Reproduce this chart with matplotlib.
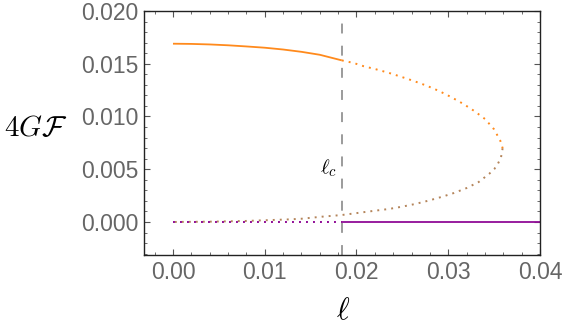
import matplotlib
matplotlib.use("Agg")
import matplotlib.pyplot as plt
from matplotlib.ticker import MultipleLocator, FormatStrFormatter

plt.rcParams['mathtext.fontset'] = 'cm'

lc = 0.0184

# upper branch (stable, solid) 0 -> lc
up_solid_x = [0.0, 0.002, 0.004, 0.006, 0.008, 0.010, 0.012, 0.014, 0.016, 0.0184]
up_solid_y = [0.0169, 0.01688, 0.01683, 0.01675, 0.01664, 0.01652, 0.01635, 0.01613, 0.01585, 0.01532]

# upper branch (dotted) lc -> turning point
up_dot_x = [0.0184, 0.0197, 0.0208, 0.02202, 0.02347, 0.02485, 0.02623, 0.02765, 0.02899,
            0.0303, 0.03161, 0.03284, 0.03401, 0.03499, 0.03567, 0.03593]
up_dot_y = [0.01532, 0.01507, 0.01476, 0.0145, 0.01415, 0.01377, 0.01337, 0.01292, 0.01242,
            0.01185, 0.01121, 0.01052, 0.00976, 0.00879, 0.00771, 0.00699]

# lower branch (dotted) turning point -> 0
lo_dot_x = [0.03593, 0.03575, 0.03542, 0.03502, 0.03448, 0.03332, 0.03201, 0.03063, 0.02925,
            0.02783, 0.02642, 0.02496, 0.02351, 0.02202, 0.0184, 0.01621, 0.01403,
            0.01275, 0.00807, 0.004, 0.0]
lo_dot_y = [0.00699, 0.00613, 0.00553, 0.00502, 0.00458, 0.00379, 0.00322, 0.00275, 0.00237,
            0.00202, 0.00171, 0.00145, 0.00123, 0.00107, 0.00066, 0.0005, 0.00031,
            0.00025, 0.0001, 0.00003, 0.0]

# trivial branch
triv_dot_x = [0.0, lc]
triv_dot_y = [0.0, 0.0]
triv_solid_x = [lc, 0.04]
triv_solid_y = [0.0, 0.0]

orange = '#ff8a1c'
brown = '#b4845a'
purple = '#900c96'

fig = plt.figure(figsize=(5.63, 3.36), dpi=100)
ax = fig.add_axes([144/563, 1-255/336, (540-144)/563, (255-11)/336])

dot = (0, (1, 2.6))
ax.plot(lo_dot_x, lo_dot_y, color=brown, lw=1.4, ls=dot, dash_capstyle='butt')
ax.plot(triv_dot_x, triv_dot_y, color=purple, lw=1.4, ls=dot, dash_capstyle='butt')
ax.plot(up_dot_x, up_dot_y, color=orange, lw=1.4, ls=dot, dash_capstyle='butt')
ax.plot(up_solid_x, up_solid_y, color=orange, lw=1.3, solid_capstyle='butt')
ax.plot(triv_solid_x, triv_solid_y, color=purple, lw=1.3, solid_capstyle='butt')
ax.axvline(lc, color='#808080', lw=1.1, dashes=(6.5, 8))

ax.text(0.0169, 0.00512, r'$\ell_c$', fontsize=15, ha='center', va='center')

ax.set_xlim(-0.00316, 0.04)
ax.set_ylim(-0.00313, 0.020)
ax.xaxis.set_major_locator(MultipleLocator(0.01))
ax.xaxis.set_minor_locator(MultipleLocator(0.002))
ax.yaxis.set_major_locator(MultipleLocator(0.005))
ax.yaxis.set_minor_locator(MultipleLocator(0.001))
ax.xaxis.set_major_formatter(FormatStrFormatter('%.2f'))
ax.yaxis.set_major_formatter(FormatStrFormatter('%.3f'))
ax.tick_params(which='both', direction='in', top=True, right=True, color='#555555')
ax.tick_params(which='major', length=4.5, width=0.8, labelsize=16.5, labelcolor='#666666', pad=4)
ax.tick_params(which='minor', length=2.5, width=0.6)
for lab in ax.get_xticklabels() + ax.get_yticklabels():
    lab.set_family('Liberation Sans')
for s in ax.spines.values():
    s.set_linewidth(1.0)
    s.set_color('#222222')

fig.text(36/563, 1-128/336, r'$4G\mathcal{F}$', fontsize=21, ha='center', va='center')
fig.text(343/563, 1-311/336, r'$\ell$', fontsize=22, ha='center', va='center')

fig.savefig('out.png', dpi=100)
